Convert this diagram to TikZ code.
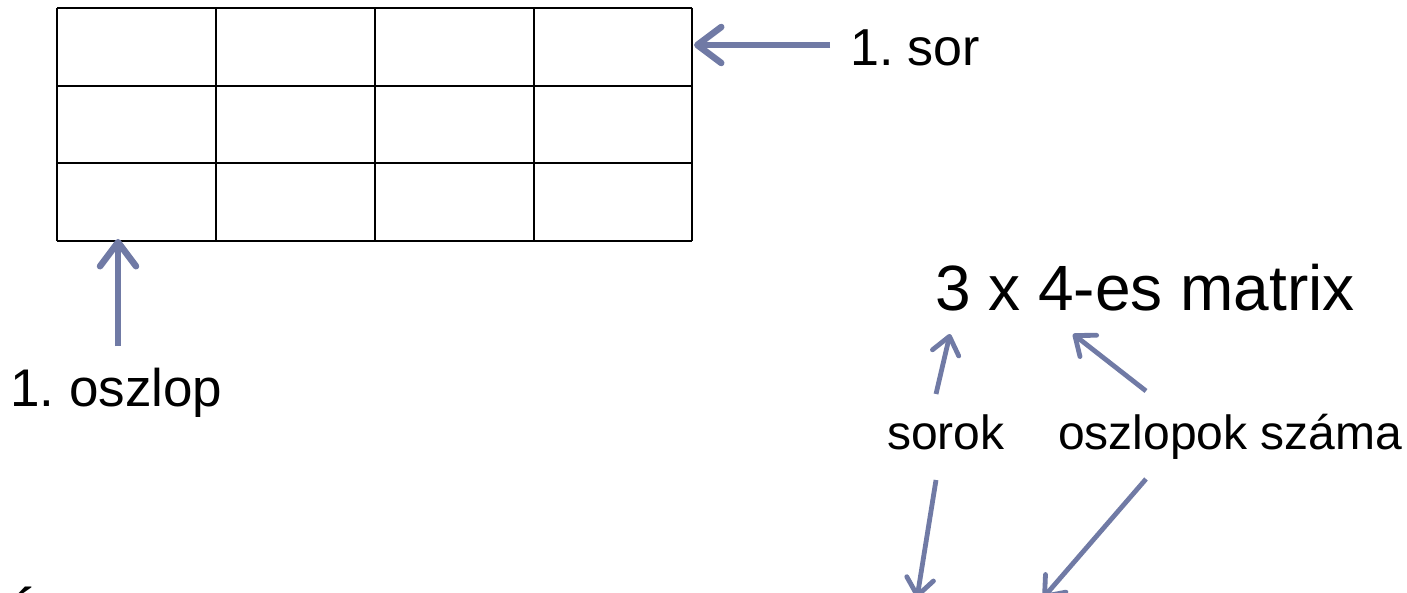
\documentclass[tikz,border=0pt]{standalone}
\usepackage{fontspec}
\setmainfont{Liberation Sans}
\usetikzlibrary{arrows.meta}
\definecolor{arrowblue}{RGB}{112,122,165}
\frenchspacing
\tikzset{
  lbl/.style={inner sep=0pt, anchor=base west, text=black},
  bigarrow/.style={draw=arrowblue, line width=6.5pt,
    -{Straight Barb[length=24pt, width=36pt, line cap=round, line join=round]}},
  smallarrow/.style={draw=arrowblue, line width=4.8pt,
    -{Straight Barb[length=17pt, width=27pt, line cap=round, line join=round]}},
  gridline/.style={draw=black, line width=2.6pt}
}
\begin{document}
\begin{tikzpicture}[x=1pt, y=-1pt]
  \useasboundingbox (0,0) rectangle (1407,593);
  \clip (0,0) rectangle (1407,593);
  \fill[white] (0,0) rectangle (1407,593);

  % 3 x 4 grid
  \foreach \y in {8,86,163,241} \draw[gridline] (57,\y) -- (692,\y);
  \foreach \x in {57,216,375,534,692} \draw[gridline] (\x,8) -- (\x,241);

  % points on the grid edge
  \coordinate (rowpt) at (694,45);
  \coordinate (colpt) at (118,239);

  % labels
  \node[lbl, font=\fontsize{52}{60}\selectfont] (sor) at (850,66) {1. sor};
  \node[lbl, font=\fontsize{53}{60}\selectfont] (oszlop) at (10,406) {1. oszlop};
  \node[lbl, font=\fontsize{64}{72}\selectfont] (matrix) at (935,311) {3 x 4-es matrix};
  \node[lbl, font=\fontsize{48}{56}\selectfont] (sorok) at (887,449) {sorok};
  \node[lbl, font=\fontsize{48}{56}\selectfont] (szama) at (1058,449) {oszlopok száma};
  \node[lbl, font=\fontsize{64}{72}\selectfont] (cut) at (1,642) {Á};

  % targets of the lower arrows (below the visible edge)
  \coordinate (low1) at (917,598);
  \coordinate (low2) at (1043,598);
  \coordinate (three) at (950,334);
  \coordinate (four) at (1073,334);

  % arrows
  \draw[bigarrow] (830,45) -- (rowpt);
  \draw[bigarrow] (118,346) -- (colpt);
  \draw[smallarrow] (936,394) -- (three);
  \draw[smallarrow] (1146,391) -- (four);
  \draw[smallarrow] (936,480) -- (low1);
  \draw[smallarrow] (1146,479) -- (low2);
\end{tikzpicture}
\end{document}
